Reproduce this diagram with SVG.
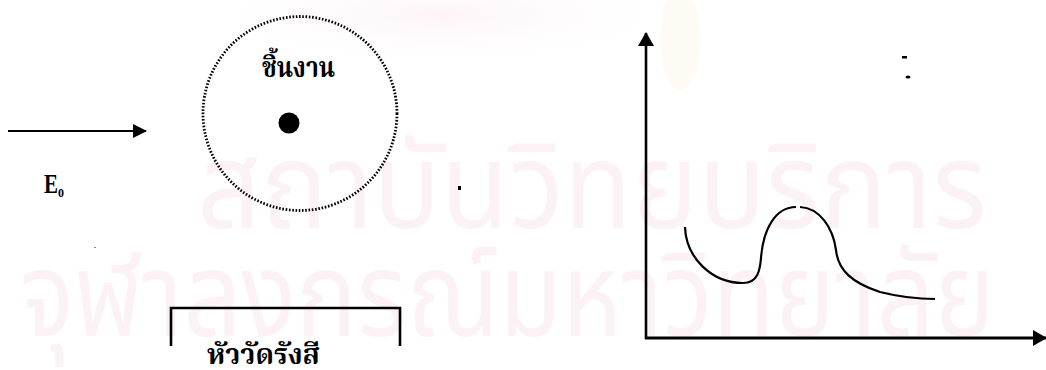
<svg xmlns="http://www.w3.org/2000/svg" width="1046" height="370" viewBox="0 0 1046 370">
  <defs>
    <style>
      .ln { stroke: #000; fill: none; }
      .th { font-family: "Noto Serif Thai", "Noto Sans Thai", "Loma", "Garuda", "Noto Sans", serif; fill: #000; font-weight: bold; }
      .wm { font-family: "Noto Sans Thai", "Loma", "Garuda", "Noto Sans", sans-serif; fill: #fcf2f6; }
    </style>
    <marker id="ah" viewBox="0 0 14 14" refX="13" refY="7" markerWidth="14" markerHeight="14" markerUnits="userSpaceOnUse" orient="auto">
      <path d="M0,0 L14,7 L0,14 Z" fill="#000"/>
    </marker>
    <marker id="ah2" viewBox="0 0 14 16" refX="13" refY="8" markerWidth="14" markerHeight="16" markerUnits="userSpaceOnUse" orient="auto">
      <path d="M0,0 L14,8 L0,16 Z" fill="#000"/>
    </marker>
    <radialGradient id="lg" cx="0.5" cy="0.5" r="0.5">
      <stop offset="0" stop-color="#fdf4f7"/>
      <stop offset="1" stop-color="#ffffff" stop-opacity="0"/>
    </radialGradient>
  </defs>

  <rect width="1046" height="370" fill="#fff"/>

  <!-- watermark -->
  <g id="watermark">
    <ellipse cx="440" cy="15" rx="270" ry="55" fill="url(#lg)"/>
    <ellipse cx="680" cy="40" rx="20" ry="50" fill="#fefbf5"/>
    <text class="wm" x="197" y="228" font-size="120" textLength="790" lengthAdjust="spacingAndGlyphs">สถาบันวิทยบริการ</text>
    <text class="wm" x="20" y="336" font-size="118" textLength="975" lengthAdjust="spacingAndGlyphs">จุฬาลงกรณ์มหาวิทยาลัย</text>
  </g>

  <!-- connectors / arrows -->
  <g id="connectors">
    <line class="ln" x1="8" y1="131" x2="146" y2="131" stroke-width="2.2" marker-end="url(#ah)"/>
    <line class="ln" x1="646" y1="339" x2="646" y2="33" stroke-width="2.6" marker-end="url(#ah2)"/>
    <line class="ln" x1="645" y1="338" x2="1046" y2="338" stroke-width="3" marker-end="url(#ah2)"/>
  </g>

  <g id="incident-label">
    <text x="44" y="193" font-family="Liberation Serif, serif" font-weight="bold" font-size="28" transform="translate(44 193) scale(0.75 1) translate(-44 -193)">E</text>
    <text x="58" y="197" font-family="Liberation Serif, serif" font-weight="bold" font-size="12">0</text>
  </g>

  <g id="workpiece">
    <circle cx="300" cy="113.5" r="97" fill="none" stroke="#000" stroke-width="2.8" stroke-dasharray="1.6 1.7"/>
    <circle cx="289" cy="123" r="10.5" fill="#000"/>
    <text class="th" x="262" y="77" font-size="29" textLength="73" lengthAdjust="spacingAndGlyphs">ชิ้นงาน</text>
  </g>

  <g id="detector">
    <path class="ln" d="M171,346 V308 H400 V346" stroke-width="2.6"/>
    <text class="th" x="207" y="364" font-size="29" textLength="113" lengthAdjust="spacingAndGlyphs">หัววัดรังสี</text>
  </g>

  <g id="specks">
    <rect x="458" y="186" width="3" height="4" fill="#000"/>
    <rect x="902" y="56" width="5" height="2.5" fill="#000"/>
    <ellipse cx="908" cy="77" rx="2.5" ry="1.6" fill="#000"/>
    <rect x="94" y="247" width="2" height="1" fill="#888"/>
  </g>

  <g id="spectrum">
    <path class="ln" stroke-width="2.2" d="M685,227 C686,258 712,283 743,283 C758,283 760,270 761,258 C763,230 775,207 796,207"/>
    <path class="ln" stroke-width="2.2" d="M800,207 C820,208 833,228 836,250 C838,270 852,283 880,292 C900,297 918,299 935,299"/>
  </g>
</svg>
